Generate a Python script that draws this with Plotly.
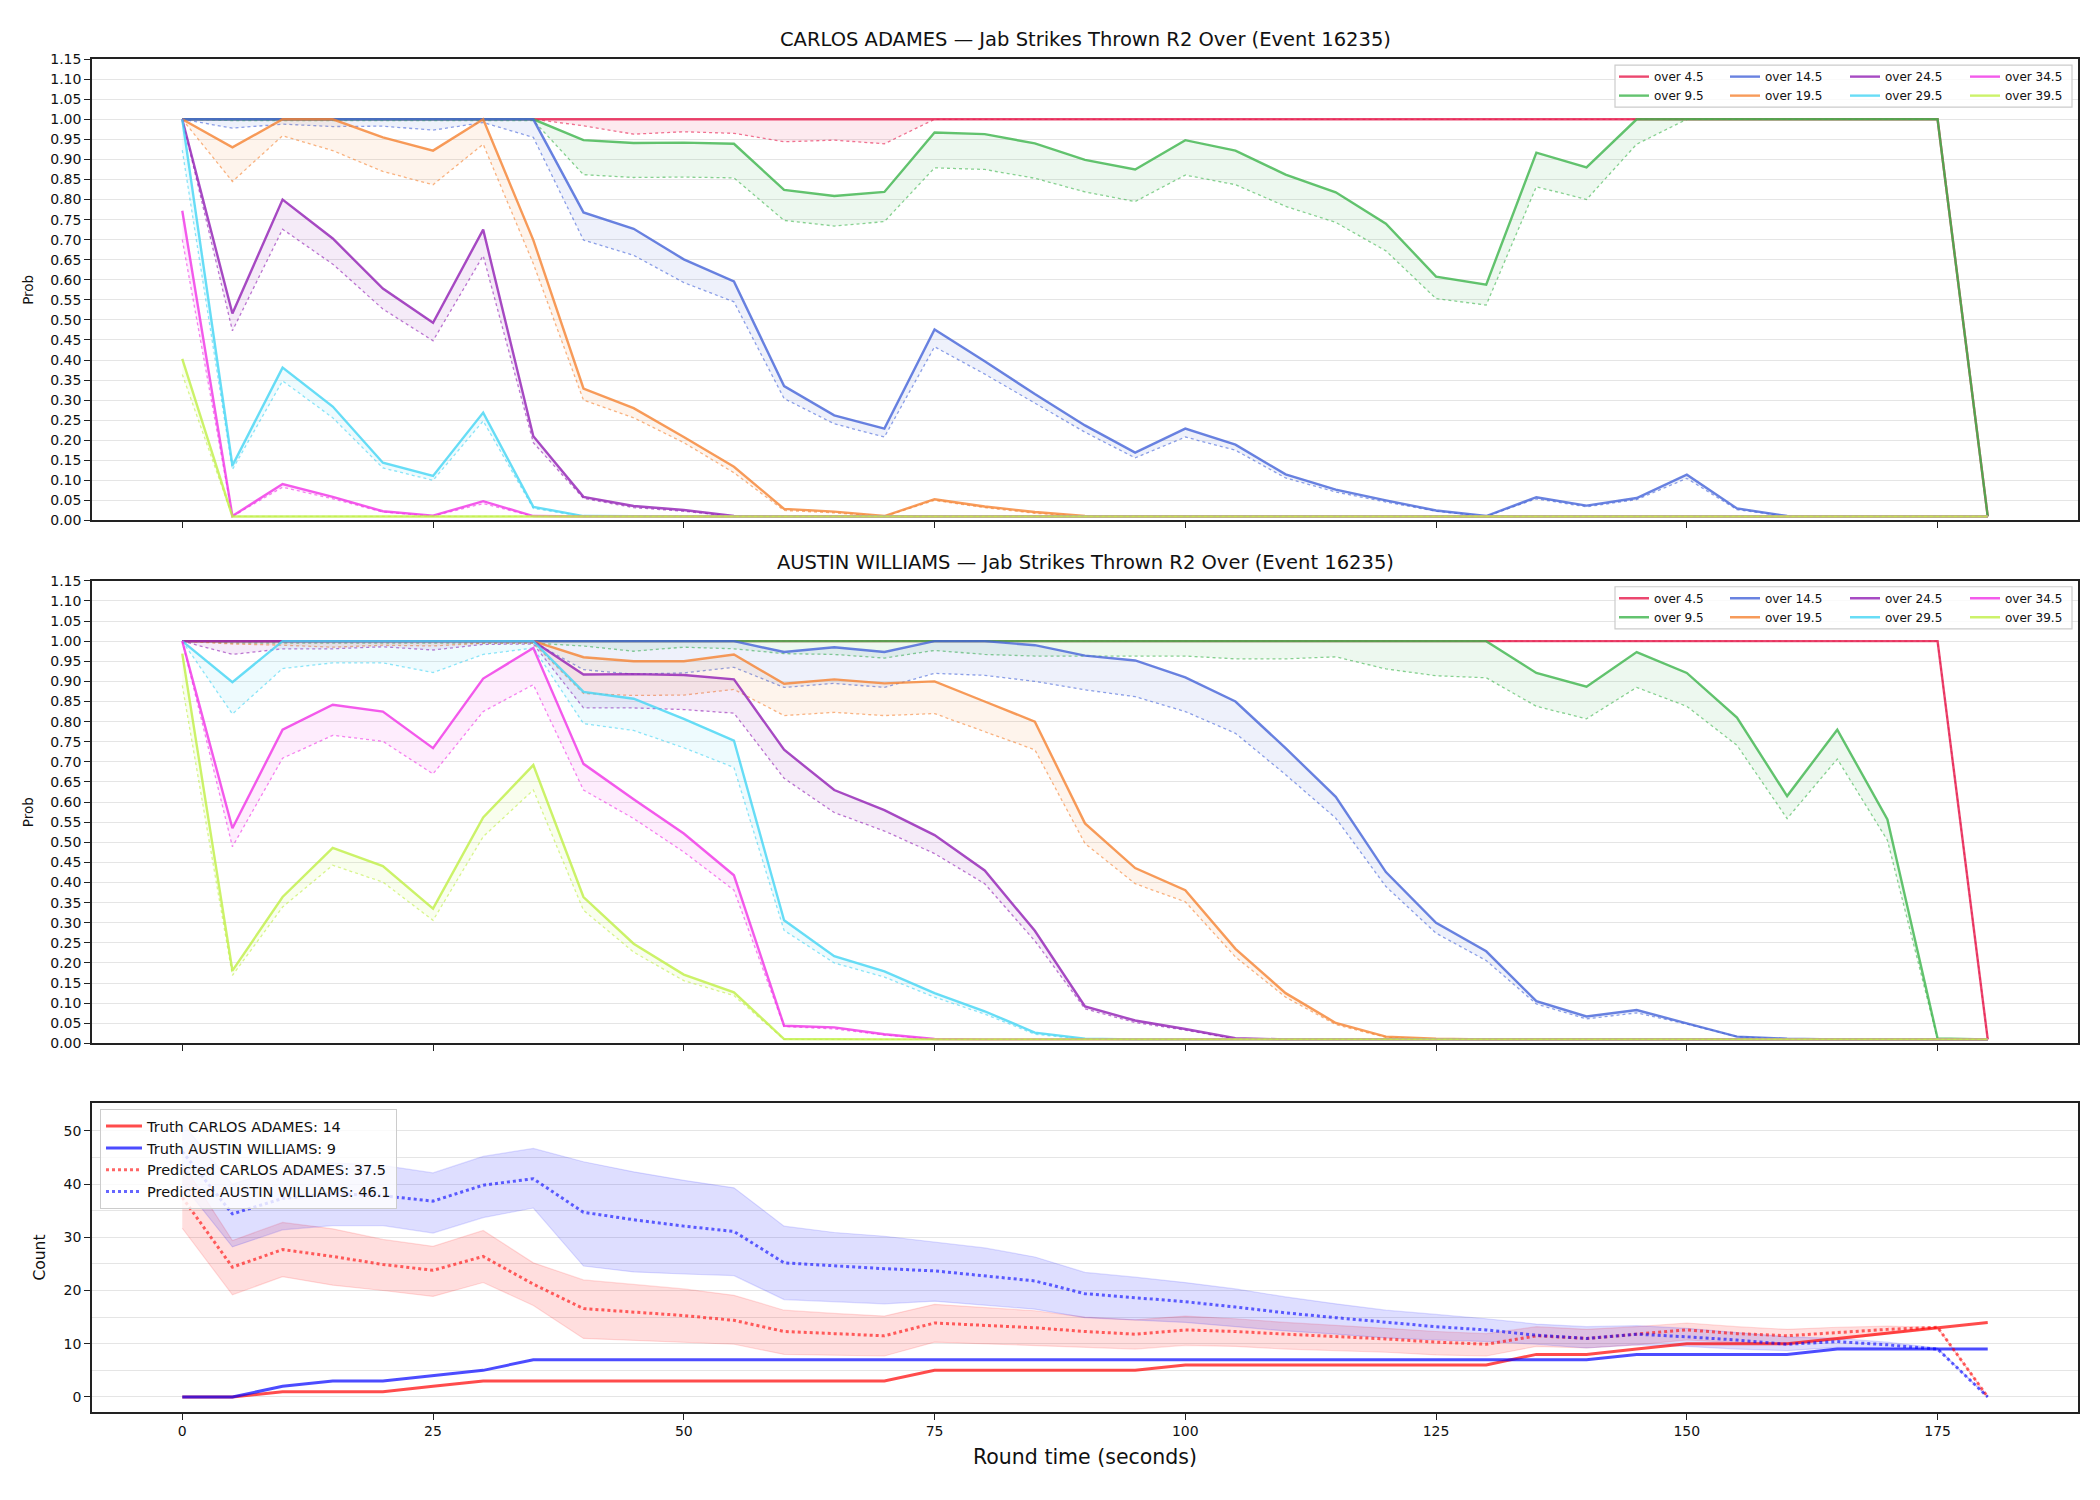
import plotly.graph_objects as go

FONT = "DejaVu Sans"
W, H = 2100, 1500

# ---------------- data ----------------
t = [0, 5, 10, 15, 20, 25, 30, 35, 40, 45, 50, 55, 60, 65, 70, 75, 80, 85, 90,
     95, 100, 105, 110, 115, 120, 125, 130, 135, 140, 145, 150, 155, 160, 165,
     170, 175, 180]

thresholds = ["over 4.5", "over 9.5", "over 14.5", "over 19.5",
              "over 24.5", "over 29.5", "over 34.5", "over 39.5"]
colors = [(230, 25, 75), (60, 180, 75), (67, 99, 216), (245, 130, 49),
          (145, 30, 180), (66, 212, 244), (240, 50, 230), (191, 239, 69)]

# CARLOS ADAMES: probability (solid) and lower band (dotted)
c_45 = [1.0, 1.0, 1.0, 1.0, 1.0, 1.0, 1.0, 1.0, 1.0, 1.0, 1.0, 1.0, 1.0, 1.0, 1.0, 1.0, 1.0, 1.0, 1.0,
        1.0, 1.0, 1.0, 1.0, 1.0, 1.0, 1.0, 1.0, 1.0, 1.0, 1.0, 1.0, 1.0, 1.0, 1.0, 1.0, 1.0, 0.01]
c_45_lo = [1.0, 1.0, 1.0, 1.0, 1.0, 1.0, 1.0, 1.0, 0.984, 0.963, 0.969, 0.965, 0.944, 0.948, 0.939, 1.0, 1.0, 1.0, 1.0,
           1.0, 1.0, 1.0, 1.0, 1.0, 1.0, 1.0, 1.0, 1.0, 1.0, 1.0, 1.0, 1.0, 1.0, 1.0, 1.0, 1.0, 0.01]
c_95 = [1.0, 1.0, 1.0, 1.0, 1.0, 1.0, 1.0, 1.0, 0.948, 0.941, 0.942, 0.939, 0.824, 0.809, 0.819, 0.967, 0.963, 0.940, 0.899,
        0.875, 0.948, 0.922, 0.862, 0.818, 0.740, 0.608, 0.588, 0.917, 0.880, 1.0, 1.0, 1.0, 1.0, 1.0, 1.0, 1.0, 0.01]
c_95_lo = [1.0, 0.997, 0.997, 0.997, 0.997, 0.997, 0.997, 0.997, 0.862, 0.855, 0.856, 0.854, 0.748, 0.734, 0.745, 0.879, 0.875, 0.853, 0.819,
           0.795, 0.861, 0.837, 0.783, 0.743, 0.672, 0.553, 0.537, 0.832, 0.800, 0.938, 1.0, 1.0, 1.0, 1.0, 1.0, 1.0, 0.01]
c_145 = [1.0, 1.0, 1.0, 1.0, 1.0, 1.0, 1.0, 1.0, 0.768, 0.727, 0.651, 0.596, 0.335, 0.262, 0.229, 0.476, 0.397, 0.315, 0.237,
         0.169, 0.229, 0.189, 0.115, 0.077, 0.050, 0.025, 0.011, 0.058, 0.037, 0.056, 0.114, 0.030, 0.011, 0.01, 0.01, 0.01, 0.01]
c_145_lo = [1.0, 0.978, 0.988, 0.982, 0.983, 0.973, 0.992, 0.955, 0.699, 0.661, 0.593, 0.545, 0.304, 0.241, 0.208, 0.433, 0.365, 0.292, 0.220,
            0.156, 0.208, 0.175, 0.106, 0.071, 0.046, 0.023, 0.010, 0.054, 0.034, 0.052, 0.105, 0.027, 0.01, 0.01, 0.01, 0.01, 0.01]
c_195 = [1.0, 0.930, 1.0, 1.0, 0.955, 0.922, 1.0, 0.699, 0.329, 0.280, 0.208, 0.134, 0.029, 0.022, 0.011, 0.053, 0.035, 0.021, 0.011,
         0.01, 0.01, 0.01, 0.01, 0.01, 0.01, 0.01, 0.01, 0.01, 0.01, 0.01, 0.01, 0.01, 0.01, 0.01, 0.01, 0.01, 0.01]
c_195_lo = [1.0, 0.845, 0.959, 0.922, 0.870, 0.837, 0.938, 0.640, 0.300, 0.256, 0.194, 0.119, 0.025, 0.019, 0.010, 0.050, 0.032, 0.018, 0.01,
            0.01, 0.01, 0.01, 0.01, 0.01, 0.01, 0.01, 0.01, 0.01, 0.01, 0.01, 0.01, 0.01, 0.01, 0.01, 0.01, 0.01, 0.01]
c_245 = [1.0, 0.516, 0.800, 0.703, 0.578, 0.493, 0.725, 0.210, 0.059, 0.036, 0.026, 0.011, 0.01, 0.01, 0.01, 0.01, 0.01, 0.01, 0.01,
         0.01, 0.01, 0.01, 0.01, 0.01, 0.01, 0.01, 0.01, 0.01, 0.01, 0.01, 0.01, 0.01, 0.01, 0.01, 0.01, 0.01, 0.01]
c_245_lo = [1.0, 0.473, 0.726, 0.639, 0.527, 0.448, 0.660, 0.194, 0.055, 0.032, 0.023, 0.01, 0.01, 0.01, 0.01, 0.01, 0.01, 0.01, 0.01,
            0.01, 0.01, 0.01, 0.01, 0.01, 0.01, 0.01, 0.01, 0.01, 0.01, 0.01, 0.01, 0.01, 0.01, 0.01, 0.01, 0.01, 0.01]
c_295 = [1.0, 0.137, 0.381, 0.284, 0.144, 0.111, 0.269, 0.034, 0.011, 0.01, 0.01, 0.01, 0.01, 0.01, 0.01, 0.01, 0.01, 0.01, 0.01,
         0.01, 0.01, 0.01, 0.01, 0.01, 0.01, 0.01, 0.01, 0.01, 0.01, 0.01, 0.01, 0.01, 0.01, 0.01, 0.01, 0.01, 0.01]
c_295_lo = [0.923, 0.127, 0.348, 0.256, 0.131, 0.100, 0.248, 0.030, 0.01, 0.01, 0.01, 0.01, 0.01, 0.01, 0.01, 0.01, 0.01, 0.01, 0.01,
            0.01, 0.01, 0.01, 0.01, 0.01, 0.01, 0.01, 0.01, 0.01, 0.01, 0.01, 0.01, 0.01, 0.01, 0.01, 0.01, 0.01, 0.01]
c_345 = [0.772, 0.011, 0.091, 0.059, 0.023, 0.012, 0.048, 0.011, 0.01, 0.01, 0.01, 0.01, 0.01, 0.01, 0.01, 0.01, 0.01, 0.01, 0.01,
         0.01, 0.01, 0.01, 0.01, 0.01, 0.01, 0.01, 0.01, 0.01, 0.01, 0.01, 0.01, 0.01, 0.01, 0.01, 0.01, 0.01, 0.01]
c_345_lo = [0.700, 0.01, 0.083, 0.054, 0.021, 0.011, 0.042, 0.01, 0.01, 0.01, 0.01, 0.01, 0.01, 0.01, 0.01, 0.01, 0.01, 0.01, 0.01,
            0.01, 0.01, 0.01, 0.01, 0.01, 0.01, 0.01, 0.01, 0.01, 0.01, 0.01, 0.01, 0.01, 0.01, 0.01, 0.01, 0.01, 0.01]
c_395 = [0.403, 0.01, 0.01, 0.01, 0.01, 0.01, 0.01, 0.01, 0.01, 0.01, 0.01, 0.01, 0.01, 0.01, 0.01, 0.01, 0.01, 0.01, 0.01,
         0.01, 0.01, 0.01, 0.01, 0.01, 0.01, 0.01, 0.01, 0.01, 0.01, 0.01, 0.01, 0.01, 0.01, 0.01, 0.01, 0.01, 0.01]
c_395_lo = [0.364, 0.01, 0.01, 0.01, 0.01, 0.01, 0.01, 0.01, 0.01, 0.01, 0.01, 0.01, 0.01, 0.01, 0.01, 0.01, 0.01, 0.01, 0.01,
            0.01, 0.01, 0.01, 0.01, 0.01, 0.01, 0.01, 0.01, 0.01, 0.01, 0.01, 0.01, 0.01, 0.01, 0.01, 0.01, 0.01, 0.01]

# AUSTIN WILLIAMS
a_45 = [1.0, 1.0, 1.0, 1.0, 1.0, 1.0, 1.0, 1.0, 1.0, 1.0, 1.0, 1.0, 1.0, 1.0, 1.0, 1.0, 1.0, 1.0, 1.0,
        1.0, 1.0, 1.0, 1.0, 1.0, 1.0, 1.0, 1.0, 1.0, 1.0, 1.0, 1.0, 1.0, 1.0, 1.0, 1.0, 1.0, 0.01]
a_45_lo = [1.0, 1.0, 1.0, 1.0, 1.0, 1.0, 1.0, 1.0, 1.0, 1.0, 1.0, 1.0, 1.0, 1.0, 1.0, 1.0, 1.0, 1.0, 1.0,
           1.0, 1.0, 1.0, 1.0, 1.0, 1.0, 1.0, 1.0, 1.0, 1.0, 1.0, 1.0, 1.0, 1.0, 1.0, 1.0, 1.0, 0.01]
a_95 = [1.0, 1.0, 1.0, 1.0, 1.0, 1.0, 1.0, 1.0, 1.0, 1.0, 1.0, 1.0, 1.0, 1.0, 1.0, 1.0, 1.0, 1.0, 1.0,
        1.0, 1.0, 1.0, 1.0, 1.0, 1.0, 1.0, 1.0, 0.921, 0.887, 0.973, 0.921, 0.810, 0.615, 0.780, 0.557, 0.0125, 0.01]
a_95_lo = [1.0, 0.995, 0.995, 0.995, 0.995, 0.995, 0.995, 0.995, 0.988, 0.975, 0.985, 0.981, 0.969, 0.967, 0.958, 0.977, 0.967, 0.963, 0.963,
           0.963, 0.963, 0.956, 0.956, 0.961, 0.931, 0.914, 0.909, 0.838, 0.807, 0.885, 0.838, 0.741, 0.559, 0.707, 0.505, 0.01, 0.01]
a_145 = [1.0, 1.0, 1.0, 1.0, 1.0, 1.0, 1.0, 1.0, 1.0, 1.0, 1.0, 1.0, 0.973, 0.985, 0.973, 1.0, 1.0, 0.990, 0.964,
         0.952, 0.910, 0.850, 0.734, 0.613, 0.426, 0.300, 0.229, 0.105, 0.067, 0.083, 0.050, 0.017, 0.012, 0.01, 0.01, 0.01, 0.01]
a_145_lo = [1.0, 0.998, 0.998, 0.998, 0.998, 0.998, 0.998, 0.998, 0.929, 0.918, 0.921, 0.935, 0.885, 0.895, 0.885, 0.920, 0.915, 0.900, 0.879,
            0.862, 0.825, 0.771, 0.668, 0.560, 0.390, 0.274, 0.206, 0.098, 0.061, 0.076, 0.048, 0.017, 0.01, 0.01, 0.01, 0.01, 0.01]
a_195 = [1.0, 1.0, 1.0, 1.0, 1.0, 1.0, 1.0, 1.0, 0.960, 0.950, 0.950, 0.967, 0.894, 0.905, 0.895, 0.900, 0.850, 0.800, 0.547,
         0.436, 0.381, 0.235, 0.125, 0.051, 0.017, 0.012, 0.01, 0.01, 0.01, 0.01, 0.01, 0.01, 0.01, 0.01, 0.01, 0.01, 0.01]
a_195_lo = [1.0, 0.993, 0.990, 0.985, 0.990, 0.988, 0.995, 0.995, 0.870, 0.865, 0.866, 0.880, 0.815, 0.823, 0.815, 0.820, 0.775, 0.730, 0.497,
            0.397, 0.352, 0.215, 0.115, 0.047, 0.015, 0.01, 0.01, 0.01, 0.01, 0.01, 0.01, 0.01, 0.01, 0.01, 0.01, 0.01, 0.01]
a_245 = [1.0, 1.0, 1.0, 1.0, 1.0, 1.0, 1.0, 1.0, 0.917, 0.918, 0.916, 0.905, 0.730, 0.630, 0.580, 0.518, 0.430, 0.280, 0.092,
         0.057, 0.036, 0.013, 0.01, 0.01, 0.01, 0.01, 0.01, 0.01, 0.01, 0.01, 0.01, 0.01, 0.01, 0.01, 0.01, 0.01, 0.01]
a_245_lo = [1.0, 0.967, 0.981, 0.981, 0.986, 0.978, 0.992, 0.993, 0.834, 0.834, 0.830, 0.821, 0.659, 0.574, 0.528, 0.472, 0.397, 0.255, 0.086,
            0.052, 0.033, 0.011, 0.01, 0.01, 0.01, 0.01, 0.01, 0.01, 0.01, 0.01, 0.01, 0.01, 0.01, 0.01, 0.01, 0.01, 0.01]
a_295 = [1.0, 0.898, 1.0, 1.0, 1.0, 1.0, 1.0, 1.0, 0.874, 0.857, 0.807, 0.753, 0.306, 0.217, 0.179, 0.125, 0.080, 0.027, 0.012,
         0.01, 0.01, 0.01, 0.01, 0.01, 0.01, 0.01, 0.01, 0.01, 0.01, 0.01, 0.01, 0.01, 0.01, 0.01, 0.01, 0.01, 0.01]
a_295_lo = [1.0, 0.819, 0.932, 0.946, 0.946, 0.922, 0.967, 0.983, 0.795, 0.778, 0.735, 0.686, 0.281, 0.200, 0.165, 0.115, 0.073, 0.023, 0.01,
            0.01, 0.01, 0.01, 0.01, 0.01, 0.01, 0.01, 0.01, 0.01, 0.01, 0.01, 0.01, 0.01, 0.01, 0.01, 0.01, 0.01, 0.01]
a_345 = [1.0, 0.535, 0.780, 0.842, 0.825, 0.734, 0.907, 0.983, 0.695, 0.607, 0.522, 0.418, 0.044, 0.040, 0.023, 0.011, 0.01, 0.01, 0.01,
         0.01, 0.01, 0.01, 0.01, 0.01, 0.01, 0.01, 0.01, 0.01, 0.01, 0.01, 0.01, 0.01, 0.01, 0.01, 0.01, 0.01, 0.01]
a_345_lo = [1.0, 0.489, 0.709, 0.766, 0.751, 0.670, 0.825, 0.892, 0.630, 0.559, 0.476, 0.381, 0.042, 0.036, 0.021, 0.01, 0.01, 0.01, 0.01,
            0.01, 0.01, 0.01, 0.01, 0.01, 0.01, 0.01, 0.01, 0.01, 0.01, 0.01, 0.01, 0.01, 0.01, 0.01, 0.01, 0.01, 0.01]
a_395 = [0.969, 0.181, 0.364, 0.486, 0.441, 0.335, 0.562, 0.692, 0.364, 0.248, 0.171, 0.127, 0.011, 0.01, 0.01, 0.01, 0.01, 0.01, 0.01,
         0.01, 0.01, 0.01, 0.01, 0.01, 0.01, 0.01, 0.01, 0.01, 0.01, 0.01, 0.01, 0.01, 0.01, 0.01, 0.01, 0.01, 0.01]
a_395_lo = [0.890, 0.169, 0.339, 0.443, 0.401, 0.306, 0.514, 0.630, 0.331, 0.227, 0.156, 0.119, 0.01, 0.01, 0.01, 0.01, 0.01, 0.01, 0.01,
            0.01, 0.01, 0.01, 0.01, 0.01, 0.01, 0.01, 0.01, 0.01, 0.01, 0.01, 0.01, 0.01, 0.01, 0.01, 0.01, 0.01, 0.01]

# Counts
truth_c = [0, 0, 1, 1, 1, 2, 3, 3, 3, 3, 3, 3, 3, 3, 3, 5, 5, 5, 5, 5, 6, 6, 6, 6, 6, 6, 6, 8, 8, 9, 10, 10, 10, 11, 12, 13, 14]
truth_a = [0, 0, 2, 3, 3, 4, 5, 7, 7, 7, 7, 7, 7, 7, 7, 7, 7, 7, 7, 7, 7, 7, 7, 7, 7, 7, 7, 7, 7, 8, 8, 8, 8, 9, 9, 9, 9]
pred_c = [37.5, 24.4, 27.7, 26.4, 24.9, 23.8, 26.4, 21.2, 16.6, 16.0, 15.3, 14.4, 12.3, 11.9, 11.5, 13.9, 13.5, 13.0, 12.3,
          11.8, 12.6, 12.3, 11.8, 11.4, 10.9, 10.3, 9.9, 11.5, 11.0, 11.8, 12.6, 11.9, 11.5, 12.1, 12.7, 13.1, 0.0]
pred_c_hi = [44.0, 29.4, 32.8, 31.6, 29.6, 28.3, 31.3, 25.2, 22.0, 21.2, 20.3, 19.1, 16.3, 15.7, 15.2, 17.4, 16.8, 16.2, 15.0,
             14.5, 15.2, 14.7, 14.0, 13.5, 12.9, 12.3, 11.9, 13.2, 12.7, 13.2, 13.9, 13.2, 12.7, 13.1, 13.3, 13.1, 0.0]
pred_c_lo = [31.7, 19.2, 22.6, 21.0, 20.0, 18.9, 21.5, 17.2, 11.0, 10.6, 10.2, 9.9, 8.0, 7.9, 7.7, 10.3, 10.0, 9.7, 9.3,
             9.0, 9.7, 9.5, 9.0, 8.7, 8.4, 7.9, 7.7, 9.5, 9.2, 9.8, 10.7, 10.2, 10.0, 10.7, 11.8, 13.0, 0.0]
pred_a = [46.1, 34.4, 37.3, 38.2, 37.8, 36.8, 39.8, 41.0, 34.7, 33.3, 32.1, 31.1, 25.2, 24.6, 24.1, 23.7, 22.8, 21.8, 19.4,
          18.6, 17.9, 16.9, 15.8, 14.9, 14.0, 13.2, 12.6, 11.6, 11.0, 11.8, 11.3, 10.7, 9.9, 10.4, 9.8, 9.0, 0.0]
pred_a_hi = [51.5, 40.0, 43.0, 44.0, 43.5, 42.1, 45.2, 46.7, 44.2, 42.3, 40.7, 39.3, 32.1, 30.9, 30.2, 29.1, 28.0, 26.3, 23.4,
             22.5, 21.5, 20.3, 18.8, 17.5, 16.3, 15.5, 14.7, 13.7, 13.2, 13.4, 12.9, 12.1, 11.3, 11.0, 10.3, 9.2, 0.0]
pred_a_lo = [40.0, 28.2, 31.4, 32.2, 32.2, 30.8, 33.7, 35.5, 24.6, 23.5, 23.1, 22.8, 18.3, 17.9, 17.5, 18.0, 17.2, 16.5, 14.9,
             14.4, 14.0, 13.2, 12.4, 11.8, 11.1, 10.7, 10.4, 9.9, 9.2, 9.8, 9.5, 9.0, 8.7, 9.3, 9.2, 9.0, 0.0]

carlos = [(c_45, c_45_lo), (c_95, c_95_lo), (c_145, c_145_lo), (c_195, c_195_lo),
          (c_245, c_245_lo), (c_295, c_295_lo), (c_345, c_345_lo), (c_395, c_395_lo)]
austin = [(a_45, a_45_lo), (a_95, a_95_lo), (a_145, a_145_lo), (a_195, a_195_lo),
          (a_245, a_245_lo), (a_295, a_295_lo), (a_345, a_345_lo), (a_395, a_395_lo)]

x_ticks = [0, 25, 50, 75, 100, 125, 150, 175]
prob_ticks = [0.0, 0.05, 0.1, 0.15, 0.2, 0.25, 0.3, 0.35, 0.4, 0.45, 0.5, 0.55, 0.6,
              0.65, 0.7, 0.75, 0.8, 0.85, 0.9, 0.95, 1.0, 1.05, 1.1, 1.15]


def rgba(c, a):
    return "rgba(%d,%d,%d,%.3f)" % (c[0], c[1], c[2], a)


# ---------------- layout geometry (pixels) ----------------
def px_x(p):
    return p / W


def px_y(p):
    return 1 - p / H


AX_L, AX_R = 92, 2078
P1 = (51.7, 518.0)
P2 = (579.0, 1046.6)
P3 = (1107.0, 1419.0)

fig = go.Figure()

panels = [("x", "y", carlos, 1), ("x2", "y2", austin, 5)]
for xa, ya, series, leg0 in panels:
    for k, (name, col) in enumerate(zip(thresholds, colors)):
        hi, lo = series[k]
        legname = "legend" if (leg0 + k // 2) == 1 else "legend%d" % (leg0 + k // 2)
        fig.add_trace(go.Scatter(x=t, y=lo, mode="lines", xaxis=xa, yaxis=ya,
                                 line=dict(color=rgba(col, 0.6), width=1.3, dash="dot"),
                                 showlegend=False, hoverinfo="skip"))
        fig.add_trace(go.Scatter(x=t, y=hi, mode="lines", xaxis=xa, yaxis=ya,
                                 line=dict(width=0), fill="tonexty",
                                 fillcolor=rgba(col, 0.09),
                                 showlegend=False, hoverinfo="skip"))
        fig.add_trace(go.Scatter(x=t, y=hi, mode="lines", xaxis=xa, yaxis=ya, name=name,
                                 line=dict(color=rgba(col, 0.8), width=2.4),
                                 legend=legname))

RED = (255, 0, 0)
BLUE = (0, 0, 255)
# bands
for lo, hi, col in [(pred_c_lo, pred_c_hi, RED), (pred_a_lo, pred_a_hi, BLUE)]:
    fig.add_trace(go.Scatter(x=t, y=lo, mode="lines", xaxis="x3", yaxis="y3",
                             line=dict(color=rgba(col, 0.13), width=1.2),
                             showlegend=False, hoverinfo="skip"))
    fig.add_trace(go.Scatter(x=t, y=hi, mode="lines", xaxis="x3", yaxis="y3",
                             line=dict(color=rgba(col, 0.13), width=1.2),
                             fill="tonexty", fillcolor=rgba(col, 0.13),
                             showlegend=False, hoverinfo="skip"))

fig.add_trace(go.Scatter(x=t, y=truth_c, mode="lines", xaxis="x3", yaxis="y3",
                         name="Truth CARLOS ADAMES: 14",
                         line=dict(color=rgba(RED, 0.7), width=3), legend="legend9"))
fig.add_trace(go.Scatter(x=t, y=truth_a, mode="lines", xaxis="x3", yaxis="y3",
                         name="Truth AUSTIN WILLIAMS: 9",
                         line=dict(color=rgba(BLUE, 0.7), width=3), legend="legend9"))
fig.add_trace(go.Scatter(x=t, y=pred_c, mode="lines", xaxis="x3", yaxis="y3",
                         name="Predicted CARLOS ADAMES: 37.5",
                         line=dict(color=rgba(RED, 0.6), width=3, dash="dot"), legend="legend9"))
fig.add_trace(go.Scatter(x=t, y=pred_a, mode="lines", xaxis="x3", yaxis="y3",
                         name="Predicted AUSTIN WILLIAMS: 46.1",
                         line=dict(color=rgba(BLUE, 0.6), width=3, dash="dot"), legend="legend9"))

axis_common = dict(showline=True, mirror=True, linecolor="#222222", linewidth=1.6,
                   ticks="outside", ticklen=6, tickwidth=1.3, tickcolor="#222222",
                   tickfont=dict(family=FONT, size=14, color="#111111"), zeroline=False)

xdom = [px_x(AX_L), px_x(AX_R)]
layout = dict(
    width=W, height=H, margin=dict(l=0, r=0, t=0, b=0),
    paper_bgcolor="white", plot_bgcolor="white",
    font=dict(family=FONT, color="#111111"),
    xaxis=dict(domain=xdom, anchor="y", range=[-9, 189], tickvals=x_ticks,
               showticklabels=False, showgrid=False, **axis_common),
    yaxis=dict(domain=[px_y(P1[1]), px_y(P1[0])], anchor="x", range=[0, 1.15],
               tickvals=prob_ticks, tickformat=".2f", showgrid=True,
               gridcolor="#e5e5e5", gridwidth=1, **axis_common),
    xaxis2=dict(domain=xdom, anchor="y2", range=[-9, 189], tickvals=x_ticks,
                showticklabels=False, showgrid=False, **axis_common),
    yaxis2=dict(domain=[px_y(P2[1]), px_y(P2[0])], anchor="x2", range=[0, 1.15],
                tickvals=prob_ticks, tickformat=".2f", showgrid=True,
                gridcolor="#e5e5e5", gridwidth=1, **axis_common),
    xaxis3=dict(domain=xdom, anchor="y3", range=[-9, 189], tickvals=x_ticks,
                showgrid=False, **axis_common),
    yaxis3=dict(domain=[px_y(P3[1]), px_y(P3[0])], anchor="x3", range=[-2.8, 55.2],
                tickvals=[0, 10, 20, 30, 40, 50], showgrid=True,
                gridcolor="#e5e5e5", gridwidth=1,
                minor=dict(tickvals=[5, 15, 25, 35, 45], showgrid=True,
                           gridcolor="#e5e5e5", gridwidth=1, ticks=""),
                **axis_common),
    showlegend=True,
)

# top legends: 4 columns x 2 rows per panel
col_x = [1614, 1725, 1845, 1965]
for pi, top in enumerate([P1[0], P2[0]]):
    for ci in range(4):
        idx = pi * 4 + ci + 1
        key = "legend" if idx == 1 else "legend%d" % idx
        layout[key] = dict(x=px_x(col_x[ci]), y=px_y(top + 3), xanchor="left", yanchor="top",
                           bgcolor="rgba(0,0,0,0)", borderwidth=0, tracegroupgap=0,
                           traceorder="normal",
                           font=dict(family=FONT, size=12, color="#111111"))
layout["legend9"] = dict(x=px_x(100), y=px_y(1113), xanchor="left", yanchor="top",
                         bgcolor="rgba(255,255,255,0.8)", bordercolor="#cccccc", borderwidth=1,
                         tracegroupgap=0, traceorder="normal", itemwidth=36,
                         font=dict(family=FONT, size=14.5, color="#111111"))

fig.update_layout(**layout)

# legend frames for top panels
shapes = []
for top in [P1[0], P2[0]]:
    shapes.append(dict(type="rect", xref="paper", yref="paper",
                       x0=px_x(1615), x1=px_x(2072), y0=px_y(top + 48.5), y1=px_y(top + 6),
                       fillcolor="rgba(255,255,255,0.8)", line=dict(color="#cccccc", width=1.2),
                       layer="above"))
fig.update_layout(shapes=shapes)

center_x = px_x((AX_L + AX_R) / 2)
annots = [
    dict(text="CARLOS ADAMES — Jab Strikes Thrown R2 Over (Event 16235)", x=center_x, y=px_y(32),
         font=dict(size=19.5, family=FONT)),
    dict(text="AUSTIN WILLIAMS — Jab Strikes Thrown R2 Over (Event 16235)", x=center_x, y=px_y(560),
         font=dict(size=19.5, family=FONT)),
    dict(text="Round time (seconds)", x=center_x, y=px_y(1465), font=dict(size=20.5, family=FONT)),
    dict(text="Prob", x=px_x(28), y=px_y((P1[0] + P1[1]) / 2), textangle=-90,
         font=dict(size=13.5, family=FONT)),
    dict(text="Prob", x=px_x(28), y=px_y((P2[0] + P2[1]) / 2), textangle=-90,
         font=dict(size=13.5, family=FONT)),
    dict(text="Count", x=px_x(40), y=px_y((P3[0] + P3[1]) / 2), textangle=-90,
         font=dict(size=15.5, family=FONT)),
]
for a in annots:
    a.update(xref="paper", yref="paper", showarrow=False, xanchor="center", yanchor="middle")
fig.update_layout(annotations=annots)

fig.write_html("out.html")
